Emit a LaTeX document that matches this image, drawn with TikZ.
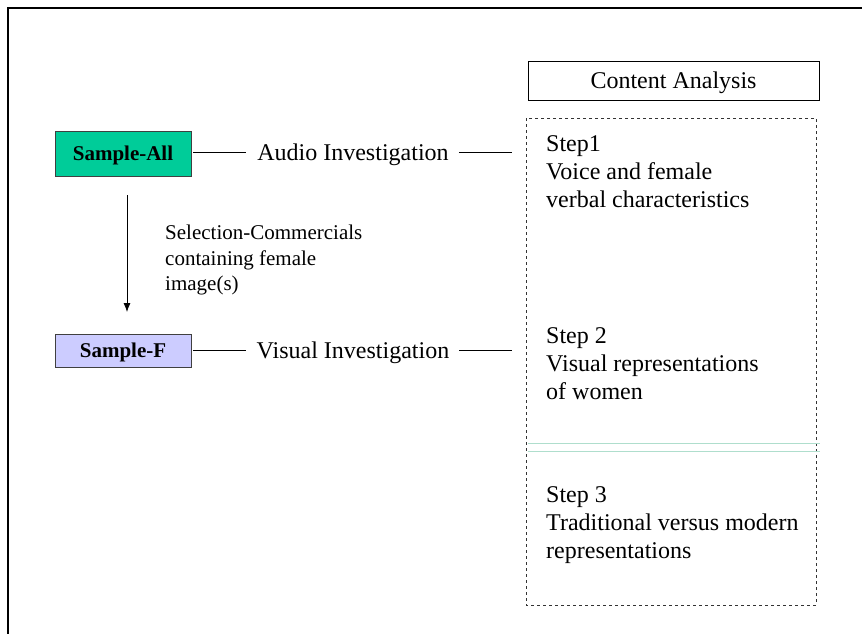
\documentclass[tikz,border=0pt]{standalone}
\usepackage{fontspec}
\setmainfont{Liberation Serif}
\usetikzlibrary{positioning,arrows.meta}

\definecolor{samplegreen}{RGB}{0,204,153}
\definecolor{samplelilac}{RGB}{204,204,255}
\definecolor{splitgreen}{RGB}{175,222,205}

\tikzset{
  samplebox/.style={draw=black!75, thick, minimum width=136pt, inner sep=0pt,
    text depth=0pt, font=\fontsize{21}{24}\selectfont\bfseries},
  bigtext/.style={font=\fontsize{24}{28}\selectfont, inner sep=0pt},
  steptext/.style={bigtext, align=left, anchor=north west},
  link/.style={thick}
}

\begin{document}
\begin{tikzpicture}[x=1pt, y=-1pt]
  \useasboundingbox (0,0) rectangle (862,634);

  % frame
  \draw[line width=2pt] (862,8) -- (8,8) -- (8,634);

  % samples
  \node[samplebox, fill=samplegreen, minimum height=45pt] (all) at (123,153.5) {Sample-All};
  \node[samplebox, fill=samplelilac, minimum height=33pt] (fem) at (123,350.5) {Sample-F};

  \draw[-{Latex[length=9pt,width=7pt]}, thick] (127,195) -- (127,312);
  \node[font=\fontsize{21}{25.5}\selectfont, align=left, anchor=north west, inner sep=0pt]
    (sel) at (165,225) {Selection-Commercials\\containing female\\image(s)};

  % investigations
  \node[bigtext, text depth=0pt] (audio) at (353,152) {Audio Investigation};
  \node[bigtext, text depth=0pt] (visual) at (353,350) {Visual Investigation};

  % content analysis
  \node[draw, thick, minimum width=291pt, minimum height=39pt, bigtext, text depth=0pt] (ca) at (673.5,80.5) {Content Analysis};
  \draw[dashed, thick, black!80] (526,118) rectangle (816,605);
  \coordinate (box1) at (526,152);
  \coordinate (box2) at (526,350);
  \draw[splitgreen, thick] (528,443) -- (820,443);
  \draw[splitgreen, thick] (528,451) -- (820,451);

  \node[steptext] (step1) at (546,135) {Step1\\Voice and female\\verbal characteristics};
  \node[steptext] (step2) at (546,327) {Step 2\\Visual representations\\of women};
  \node[steptext] (step3) at (546,486) {Step 3\\Traditional versus modern\\representations};

  % links
  \draw[link, shorten <=2pt] (all.east |- box1) -- ([xshift=-11pt]audio.west |- box1);
  \draw[link, shorten >=14pt] ([xshift=10pt]audio.east |- box1) -- (box1);
  \draw[link, shorten <=2pt] (fem.east |- box2) -- ([xshift=-11pt]visual.west |- box2);
  \draw[link, shorten >=14pt] ([xshift=10pt]visual.east |- box2) -- (box2);
\end{tikzpicture}
\end{document}
